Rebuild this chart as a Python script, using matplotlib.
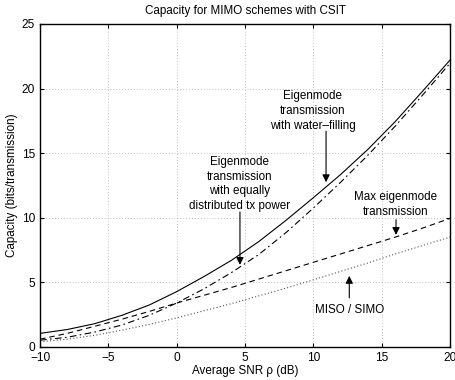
import matplotlib
matplotlib.use("Agg")
import matplotlib.pyplot as plt

plt.rcParams['font.family'] = ['Liberation Sans', 'DejaVu Sans']

snr_db = [-10, -8, -6, -4, -2, 0, 2, 4, 6, 8, 10, 12, 14, 16, 18, 20]
cap_waterfill = [1.05, 1.35, 1.8, 2.45, 3.25, 4.28, 5.45, 6.7, 8.15, 9.8, 11.55, 13.35, 15.3, 17.45, 19.8, 22.2]
cap_equal = [0.52, 0.75, 1.15, 1.7, 2.45, 3.4, 4.5, 5.75, 7.15, 8.85, 10.75, 12.75, 14.85, 17.1, 19.5, 21.95]
cap_maxeig = [0.6, 1.05, 1.6, 2.15, 2.75, 3.4, 4.0, 4.6, 5.25, 5.9, 6.55, 7.2, 7.85, 8.5, 9.2, 9.95]
cap_miso = [0.4, 0.6, 0.9, 1.3, 1.75, 2.25, 2.8, 3.35, 3.95, 4.55, 5.2, 5.85, 6.5, 7.2, 7.85, 8.5]

xticks = [-10, -5, 0, 5, 10, 15, 20]
yticks = [0, 5, 10, 15, 20, 25]

fig = plt.figure(figsize=(4.55, 3.8), dpi=100)
ax = fig.add_axes([0.088, 0.087, 0.901, 0.850])

ax.plot(snr_db, cap_waterfill, color='k', lw=0.8, ls='-')
ax.plot(snr_db, cap_equal, color='k', lw=0.8, ls=(0, (6, 3, 1.5, 3)))
ax.plot(snr_db, cap_maxeig, color='k', lw=0.8, ls=(0, (5, 3.5)))
ax.plot(snr_db, cap_miso, color='#555555', lw=0.8, ls=(0, (1, 2)))

ax.set_xlim(-10, 20)
ax.set_ylim(0, 25)
ax.set_xticks(xticks)
ax.set_yticks(yticks)
ax.grid(True, ls=(0, (1, 2.5)), color='#aaaaaa', lw=0.6)
ax.tick_params(direction='in', length=3, labelsize=8.6, top=True, right=True, width=0.8)
for s in ax.spines.values():
    s.set_linewidth(1.0)

fs = 8.4
ax.set_title('Capacity for MIMO schemes with CSIT', fontsize=fs, pad=7)
ax.set_xlabel('Average SNR ρ (dB)', fontsize=fs, labelpad=1)
ax.set_ylabel('Capacity (bits/transmission)', fontsize=fs, labelpad=3)

ap = dict(arrowstyle='-|>', color='k', lw=0.8, mutation_scale=11, shrinkA=0, shrinkB=0)
ax.annotate('', xy=(10.93, 12.75), xytext=(10.93, 16.7), arrowprops=ap)
ax.text(9.97, 18.27, 'Eigenmode\ntransmission\nwith water\u2013filling', ha='center', va='center',
        fontsize=fs, linespacing=1.3)

ax.annotate('', xy=(4.63, 6.35), xytext=(4.63, 10.45), arrowprops=ap)
ax.text(4.63, 12.6, 'Eigenmode\ntransmission\nwith equally\ndistributed tx power', ha='center',
        va='center', fontsize=fs, linespacing=1.3)

ax.annotate('', xy=(16.05, 8.67), xytext=(16.05, 9.85), arrowprops=ap)
ax.text(16.05, 11.0, 'Max eigenmode\ntransmission', ha='center', va='center',
        fontsize=fs, linespacing=1.3)

ax.annotate('', xy=(12.63, 5.5), xytext=(12.63, 3.8), arrowprops=ap)
ax.text(12.63, 2.86, 'MISO / SIMO', ha='center', va='center', fontsize=fs)

fig.savefig('out.png', dpi=100)
